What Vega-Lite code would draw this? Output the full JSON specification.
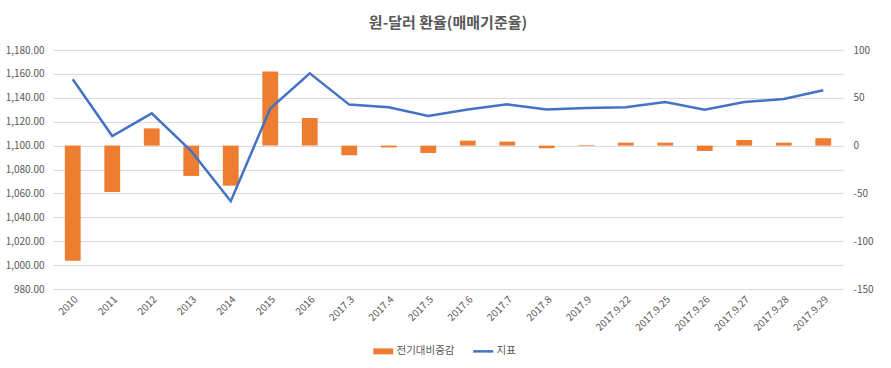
{
  "$schema": "https://vega.github.io/schema/vega-lite/v6.json",
  "autosize": {"type": "none"},
  "width": 790,
  "height": 239,
  "padding": {"left": 53, "top": 50, "right": 48, "bottom": 79},
  "background": "white",
  "title": {
    "text": "원-달러 환율(매매기준율)",
    "font": "Noto Sans CJK KR",
    "fontSize": 15,
    "fontWeight": "bold",
    "color": "#595959",
    "anchor": "middle",
    "offset": 14
  },
  "data": {
    "values": [
      {"period": "2010", "change": -120.4, "index": 1155.5},
      {"period": "2011", "change": -48.5, "index": 1108},
      {"period": "2012", "change": 18, "index": 1127},
      {"period": "2013", "change": -31.7, "index": 1095.3},
      {"period": "2014", "change": -41.9, "index": 1053.5},
      {"period": "2015", "change": 77.4, "index": 1131},
      {"period": "2016", "change": 28.9, "index": 1160.5},
      {"period": "2017.3", "change": -10.1, "index": 1134.3},
      {"period": "2017.4", "change": -1.9, "index": 1132},
      {"period": "2017.5", "change": -7.7, "index": 1124.8},
      {"period": "2017.6", "change": 5.2, "index": 1130.3},
      {"period": "2017.7", "change": 4.2, "index": 1134.5},
      {"period": "2017.8", "change": -2.8, "index": 1130.3},
      {"period": "2017.9", "change": 0.7, "index": 1131.5},
      {"period": "2017.9.22", "change": 3.1, "index": 1132},
      {"period": "2017.9.25", "change": 3.1, "index": 1136.5},
      {"period": "2017.9.26", "change": -5.6, "index": 1130},
      {"period": "2017.9.27", "change": 5.9, "index": 1136.5},
      {"period": "2017.9.28", "change": 3.1, "index": 1139},
      {"period": "2017.9.29", "change": 7.7, "index": 1146.3}
    ]
  },
  "encoding": {
    "x": {
      "field": "period",
      "type": "nominal",
      "sort": null,
      "scale": {"paddingInner": 0.6, "paddingOuter": 0.3},
      "axis": {
        "title": null,
        "labelAngle": -45,
        "labelPadding": 5,
        "ticks": false,
        "domain": false,
        "grid": false
      }
    }
  },
  "layer": [
    {
      "mark": {"type": "bar"},
      "encoding": {
        "y": {
          "field": "change",
          "type": "quantitative",
          "scale": {"domain": [-150, 100], "nice": false},
          "axis": {
            "orient": "right",
            "title": null,
            "values": [-150, -100, -50, 0, 50, 100],
            "labelExpr": "'' + datum.value",
            "grid": false,
            "labelPadding": 10
          }
        },
        "color": {
          "datum": "전기대비증감",
          "type": "nominal",
          "scale": {"domain": ["전기대비증감", "지표"], "range": ["#ED7D31", "#4472C4"]},
          "legend": {
            "title": null,
            "orient": "none",
            "direction": "horizontal",
            "legendX": 325,
            "legendY": 296,
            "symbolSize": 400,
            "columnPadding": 13,
            "labelOffset": 8,
            "encode": {
              "symbols": {
                "update": {
                  "shape": {"signal": "datum.value === '지표' ? 'M-1,0H1' : 'M-1,-0.3H1V0.3H-1Z'"},
                  "fill": {"signal": "datum.value === '지표' ? 'transparent' : '#ED7D31'"},
                  "stroke": {"signal": "datum.value === '지표' ? '#4472C4' : 'transparent'"},
                  "strokeWidth": {"signal": "datum.value === '지표' ? 2.5 : 0"},
                  "opacity": {"value": 1}
                }
              }
            }
          }
        }
      }
    },
    {
      "mark": {"type": "line", "strokeWidth": 2.5, "color": "#4472C4"},
      "encoding": {
        "y": {
          "field": "index",
          "type": "quantitative",
          "scale": {"domain": [980, 1180], "nice": false, "zero": false},
          "axis": {
            "orient": "left",
            "title": null,
            "values": [980, 1000, 1020, 1040, 1060, 1080, 1100, 1120, 1140, 1160, 1180],
            "format": ",.2f",
            "grid": true,
            "labelPadding": 9
          }
        },
        "color": {"datum": "지표", "type": "nominal"}
      }
    }
  ],
  "resolve": {"scale": {"y": "independent"}},
  "config": {
    "view": {"stroke": null},
    "font": "Noto Sans CJK KR",
    "axis": {
      "labelFont": "Noto Sans CJK KR",
      "labelFontSize": 10,
      "labelColor": "#595959",
      "ticks": false,
      "domain": false,
      "gridColor": "#d9d9d9",
      "gridWidth": 1
    },
    "legend": {
      "labelFont": "Noto Sans CJK KR",
      "labelFontSize": 10.5,
      "labelColor": "#595959"
    }
  }
}
